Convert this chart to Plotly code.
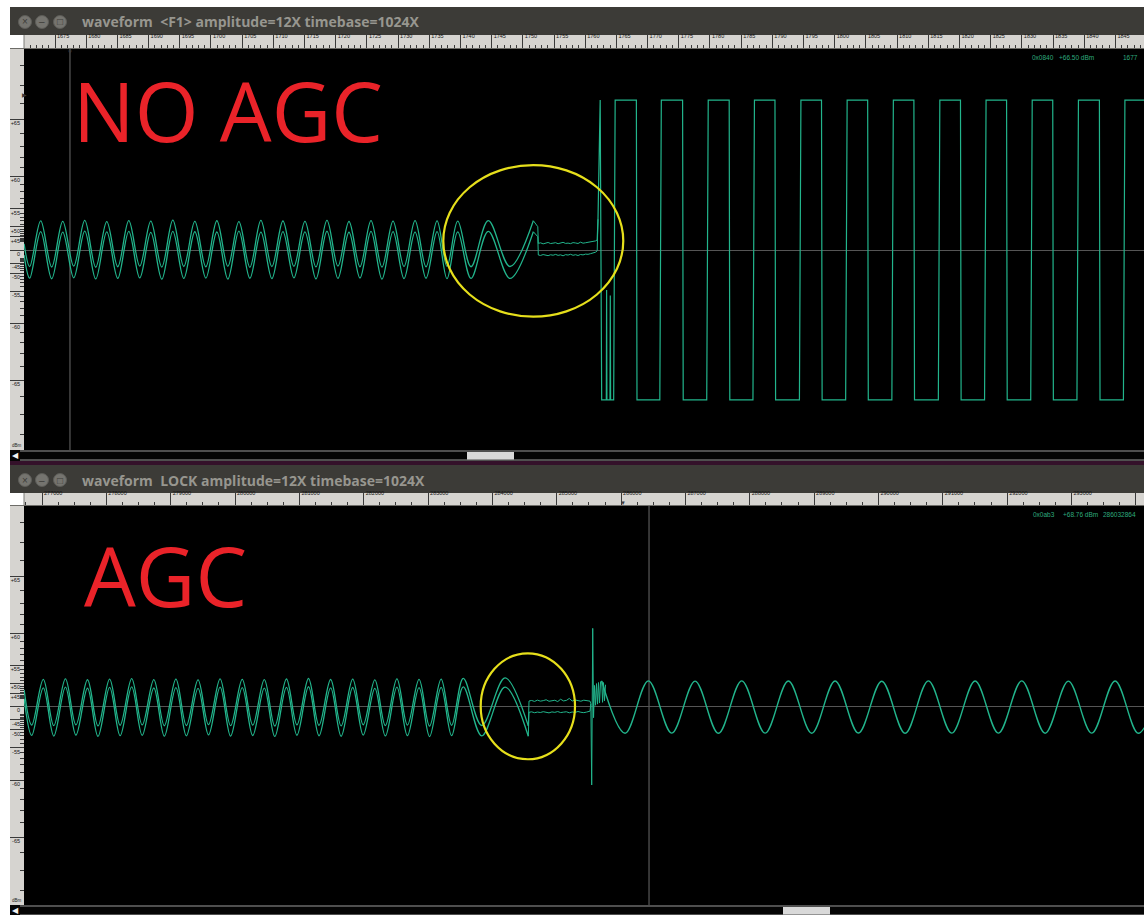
import plotly.graph_objects as go

# ---------------------------------------------------------------------------
# Figure geometry (pixels)
# ---------------------------------------------------------------------------
W, H = 1144, 915

# ---------------------------------------------------------------------------
# Upper window: "<F1>" capture, no AGC (x in ruler units, y in linear counts)
# ---------------------------------------------------------------------------
TOP_X_RANGE = [1670.03, 1849.58]
TOP_Y_RANGE = [-2728, 2742]
TOP_RULER_MAJOR = list(range(1675, 1850, 5))
TOP_RULER_MINOR = [v for v in range(1671, 1850) if v % 5]

TOP_START_X = 1670.05
TOP_START_UPPER = 85
TOP_START_LOWER = -70

TOP_TROUGH_X = [1670.94, 1674.47, 1678.00, 1681.53, 1685.06, 1688.59, 1692.12, 1695.65,
                1699.18, 1702.71, 1706.24, 1709.77, 1713.30, 1716.83, 1720.36, 1723.89,
                1727.42, 1730.95, 1734.48, 1737.84, 1741.69, 1747.94]
TOP_PEAK_X = [1672.71, 1676.24, 1679.77, 1683.30, 1686.83, 1690.36, 1693.89, 1697.42,
              1700.95, 1704.48, 1708.01, 1711.54, 1715.07, 1718.60, 1722.13, 1725.66,
              1729.19, 1732.72, 1736.25, 1739.56, 1744.46, 1751.68]
TOP_UPPER_TROUGHS = [-226, -232, -221, -235, -228, -219, -233, -225, -230, -222, -236,
                     -227, -224, -231, -220, -229, -234, -226, -230, -224, -228, -225]
TOP_UPPER_PEAKS = [398, 392, 405, 388, 401, 395, 407, 390, 399, 386, 403,
                   396, 392, 404, 389, 400, 394, 402, 398, 393, 401, 400]
TOP_LOWER_TROUGHS = [-384, -392, -379, -395, -386, -381, -398, -388, -383, -396, -385,
                     -390, -380, -394, -387, -382, -397, -389, -385, -391, -386, -388]
TOP_LOWER_PEAKS = [252, 244, 258, 247, 255, 240, 253, 249, 246, 257, 243,
                   251, 248, 256, 242, 254, 250, 245, 252, 248, 254, 250]

# dropout: signal collapses onto the DC level of each channel
TOP_FLAT_X = [1752.40, 1752.48, 1752.85, 1753.25, 1753.65, 1754.05, 1754.45, 1754.85,
              1755.25, 1755.65, 1756.05, 1756.45, 1756.85, 1757.25, 1757.65, 1758.05,
              1758.45, 1758.85, 1759.25, 1759.65, 1760.05, 1760.45, 1760.85, 1761.25,
              1761.65, 1761.92]
TOP_FLAT_UPPER = [318, 91, 98, 84, 95, 103, 88, 92, 100, 86, 97, 105, 90, 94, 87, 101,
                  96, 89, 107, 93, 99, 104, 110, 116, 124, 136]
TOP_FLAT_LOWER = [181, -68, -74, -62, -70, -77, -65, -71, -60, -73, -66, -79, -63, -69,
                  -58, -72, -64, -75, -61, -67, -56, -59, -50, -44, -30, -12]

# burst onset, then the clipped (saturated) signal
TOP_SPIKE_X = [1762.05, 1762.40, 1762.64, 1763.38, 1763.43, 1763.48, 1763.97, 1764.02,
               1764.07, 1764.56]
TOP_SPIKE_Y = [420, 2045, -2045, -2045, -546, -2045, -2045, -620, -2045, -2045]
SQ_HIGH, SQ_LOW = 2045, -2045
SQ_RISES = [1764.68, 1772.08, 1779.60, 1787.01, 1794.46, 1801.87, 1809.28, 1816.73,
            1824.14, 1831.54, 1838.95, 1846.40]
SQ_FALLS = [1768.25, 1775.66, 1783.13, 1790.47, 1797.93, 1805.33, 1812.74, 1820.21,
            1827.60, 1835.00, 1842.48]
SQ_END_X = 1850.5

TOP_CURSOR_X = 1677.4
TOP_CURSOR_DBM = 66.50
TOP_HILITE_X = [1737.25, 1766.10]
TOP_HILITE_Y = [-910, 1159]

# ---------------------------------------------------------------------------
# Lower window: "LOCK" capture, with AGC
# ---------------------------------------------------------------------------
BOT_X_RANGE = [276720, 294127]
BOT_Y_RANGE = [-2705, 2738]
BOT_RULER_MAJOR = list(range(277000, 294001, 1000))
BOT_RULER_MINOR = [v for v in range(276750, 294127, 250) if v % 1000]

BOT_START_X = 276722
BOT_START_UPPER = 230
BOT_START_LOWER = 110

BOT_TROUGH_X = [276840, 277183, 277527, 277870, 278214, 278557, 278901, 279244, 279588,
                279931, 280275, 280618, 280962, 281305, 281649, 281992, 282336, 282679,
                283023, 283366, 283834, 284558]
BOT_PEAK_X = [277020, 277364, 277707, 278051, 278394, 278738, 279081, 279425, 279768,
              280112, 280455, 280799, 281142, 281486, 281829, 282173, 282516, 282860,
              283203, 283547, 284196]
BOT_UPPER_TROUGHS = [-250, -258, -247, -262, -253, -249, -260, -256, -244, -259, -252,
                     -263, -248, -255, -261, -246, -257, -251, -264, -254, -256, -262]
BOT_UPPER_PEAKS = [372, 380, 368, 377, 383, 370, 376, 365, 381, 374, 369, 378, 385, 371,
                   376, 367, 380, 373, 377, 386, 392]
BOT_LOWER_TROUGHS = [-392, -400, -388, -404, -395, -390, -402, -397, -385, -401, -393,
                     -406, -389, -396, -403, -387, -399, -394, -407, -395, -398, -402]
BOT_LOWER_PEAKS = [258, 266, 252, 263, 270, 255, 261, 249, 268, 259, 254, 265, 272, 257,
                   262, 251, 267, 260, 263, 271, 268]

BOT_FLAT_X = [284569, 284610, 284655, 284700, 284745, 284790, 284835, 284880, 284925,
              284970, 285015, 285060, 285105, 285150, 285195, 285240, 285285, 285330,
              285375, 285420, 285465, 285517]
BOT_FLAT_UPPER = [78, 85, 72, 90, 76, 83, 95, 74, 81, 88, 70, 102, 79, 86, 113, 77, 92,
                  84, 75, 89, 80, 76]
BOT_FLAT_LOWER = [-76, -70, -82, -73, -79, -68, -75, -84, -71, -77, -66, -80, -74, -69,
                  -83, -72, -78, -65, -76, -81, -73, -60]

# AGC re-acquisition transient
BOT_SPIKE_X = [285530, 285543, 285559, 285572, 285587, 285603, 285618, 285634, 285649,
               285665, 285681, 285699, 285712, 285727, 285742, 285758]
BOT_SPIKE_Y = [40, -1068, 1069, -150, 290, 20, 315, 35, 330, 50, 342, 350, 60, 330, 80,
               300]

# settled signal after the AGC has locked
BOT_R_PEAK_X = [285699, 286424, 287150, 287875, 288600, 289326, 290051, 290776, 291502,
                292227, 292952, 293678, 294403]
BOT_R_TROUGH_X = [286062, 286787, 287512, 288238, 288963, 289688, 290414, 291139, 291864,
                  292590, 293315, 294040]
BOT_R_PEAKS = [350, 352, 349, 353, 350, 351, 348, 352, 350, 353, 349, 351, 350]
BOT_R_TROUGHS = [-362, -360, -363, -361, -362, -359, -363, -361, -360, -362, -361, -363]

BOT_CURSOR_X = 286434
BOT_MARK_X = 286033
BOT_CURSOR_DBM = 68.76
BOT_HILITE_X = [283818, 285284]
BOT_HILITE_Y = [-717, 728]

# amplitude ruler, labelled in dBm
DBM_MARKS = [65, 60, 55, 50, 45]
DBM_MINOR = [d for d in range(41, 69) if d % 5]

# ---------------------------------------------------------------------------
# Styling
# ---------------------------------------------------------------------------
WAVE = "#22b58c"
RULER_BG = "#d6d4d0"
RULER_INK = "#3a3a3a"
TITLE_BG = "#3c3b37"
TITLE_INK = "#97968f"
HILITE = "#e6df1b"
LABEL_RED = "#ea2329"
INFO_GREEN = "#2eaa7e"
TICK_FONT = dict(family="Liberation Sans", size=5.5, color="#151515")


def px_x(px):
    return px / W


def px_y(py):
    return 1 - py / H


def alternate(a, b):
    out = []
    for i in range(max(len(a), len(b))):
        if i < len(a):
            out.append(a[i])
        if i < len(b):
            out.append(b[i])
    return out


def dbm_to_counts(d):
    return 10 ** (d / 20.0)


fig = go.Figure()


def add_wave(xs, ys, xa, ya, shape="linear", width=1.3):
    fig.add_trace(go.Scatter(
        x=xs, y=ys, xaxis=xa, yaxis=ya, mode="lines",
        line=dict(color=WAVE, width=width, shape=shape),
        hoverinfo="skip", showlegend=False))


# ---- upper window traces ----
add_wave([TOP_START_X] + alternate(TOP_TROUGH_X, TOP_PEAK_X),
         [TOP_START_UPPER] + alternate(TOP_UPPER_TROUGHS, TOP_UPPER_PEAKS), "x", "y", "spline")
add_wave([TOP_START_X] + alternate(TOP_TROUGH_X, TOP_PEAK_X),
         [TOP_START_LOWER] + alternate(TOP_LOWER_TROUGHS, TOP_LOWER_PEAKS), "x", "y", "spline")
add_wave([TOP_PEAK_X[-1]] + TOP_FLAT_X, [TOP_UPPER_PEAKS[-1]] + TOP_FLAT_UPPER, "x", "y", width=1.0)
add_wave([TOP_PEAK_X[-1]] + TOP_FLAT_X + [TOP_SPIKE_X[0]],
         [TOP_LOWER_PEAKS[-1]] + TOP_FLAT_LOWER + [TOP_SPIKE_Y[0]], "x", "y", width=1.0)

sq_x, sq_y = [TOP_FLAT_X[-1]] + TOP_SPIKE_X, [TOP_FLAT_UPPER[-1]] + TOP_SPIKE_Y
for i, r in enumerate(SQ_RISES):
    sq_x += [r - 0.12, r + 0.12]
    sq_y += [SQ_LOW, SQ_HIGH]
    if i < len(SQ_FALLS):
        f = SQ_FALLS[i]
        sq_x += [f - 0.05, f + 0.05]
        sq_y += [SQ_HIGH, SQ_LOW]
sq_x.append(SQ_END_X)
sq_y.append(SQ_HIGH)
add_wave(sq_x, sq_y, "x", "y", width=1.2)

# ---- lower window traces ----
add_wave([BOT_START_X] + alternate(BOT_TROUGH_X, BOT_PEAK_X),
         [BOT_START_UPPER] + alternate(BOT_UPPER_TROUGHS, BOT_UPPER_PEAKS), "x2", "y2", "spline")
add_wave([BOT_START_X] + alternate(BOT_TROUGH_X, BOT_PEAK_X),
         [BOT_START_LOWER] + alternate(BOT_LOWER_TROUGHS, BOT_LOWER_PEAKS), "x2", "y2", "spline")
add_wave([BOT_TROUGH_X[-1]] + BOT_FLAT_X + BOT_SPIKE_X,
         [BOT_UPPER_TROUGHS[-1]] + BOT_FLAT_UPPER + BOT_SPIKE_Y, "x2", "y2", width=1.0)
add_wave([BOT_TROUGH_X[-1]] + BOT_FLAT_X + BOT_SPIKE_X[:1],
         [BOT_LOWER_TROUGHS[-1]] + BOT_FLAT_LOWER + BOT_SPIKE_Y[:1], "x2", "y2", width=1.0)
add_wave(alternate(BOT_R_PEAK_X, BOT_R_TROUGH_X), alternate(BOT_R_PEAKS, BOT_R_TROUGHS),
         "x2", "y2", "spline", width=1.4)


# ---------------------------------------------------------------------------
# Axes. The scope area axes carry no ticks; the time ruler above and the
# dBm ruler on the left are separate strips that share the same ranges.
# ---------------------------------------------------------------------------
def scope_x(domain, rng, anchor):
    return dict(domain=domain, range=rng, anchor=anchor, showticklabels=False, ticks="",
                showgrid=False, zeroline=False, showline=False, fixedrange=True)


def scope_y(domain, rng, anchor):
    return dict(domain=domain, range=rng, anchor=anchor, showticklabels=False, ticks="",
                showgrid=False, showline=False, zeroline=True,
                zerolinecolor="#555555", zerolinewidth=1, fixedrange=True)


def time_ruler(domain, rng, major, minor, anchor):
    return dict(domain=domain, range=rng, anchor=anchor, side="bottom",
                tickmode="array", tickvals=major, ticktext=[str(v) for v in major],
                ticks="", showgrid=True, gridcolor=RULER_INK, gridwidth=1,
                tickfont=TICK_FONT, tickangle=0,
                ticklabelposition="inside right", ticklabelstandoff=4, ticklabelshift=2,
                minor=dict(tickmode="array", tickvals=minor, ticks="inside", ticklen=4,
                           tickwidth=1, tickcolor=RULER_INK, showgrid=False),
                zeroline=False, showline=False, fixedrange=True)


def dbm_ruler(domain, rng, anchor):
    vals = [dbm_to_counts(d) for d in DBM_MARKS] + [0] + [-dbm_to_counts(d) for d in reversed(DBM_MARKS)]
    text = ["+%d" % d for d in DBM_MARKS] + ["0"] + ["-%d" % d for d in reversed(DBM_MARKS)]
    mvals = [dbm_to_counts(d) for d in DBM_MINOR] + [-dbm_to_counts(d) for d in DBM_MINOR]
    return dict(domain=domain, range=rng, anchor=anchor, side="right",
                tickmode="array", tickvals=vals, ticktext=text,
                ticks="", showgrid=True, gridcolor=RULER_INK, gridwidth=1,
                tickfont=TICK_FONT, ticklabelposition="inside bottom", ticklabelstandoff=1,
                minor=dict(tickmode="array", tickvals=mvals, ticks="inside", ticklen=4,
                           tickwidth=1, tickcolor=RULER_INK, showgrid=False),
                zeroline=False, showline=False, fixedrange=True)


def hidden(domain, anchor):
    return dict(domain=domain, range=[0, 1], anchor=anchor, visible=False, fixedrange=True)


TOP_BAR, BOT_BAR = 7, 465
TOP_RULER = (35, 49)
BOT_RULER = (493, 506)
TOP_PLOT = (49, 450)
BOT_PLOT = (506, 905)
X_DOMAIN = [px_x(24), 1]
STRIP_DOMAIN = [px_x(10), px_x(24)]


def ydom(band):
    return [px_y(band[1]), px_y(band[0])]


layout_axes = dict(
    xaxis=scope_x(X_DOMAIN, TOP_X_RANGE, "y"),
    yaxis=scope_y(ydom(TOP_PLOT), TOP_Y_RANGE, "x"),
    xaxis2=scope_x(X_DOMAIN, BOT_X_RANGE, "y2"),
    yaxis2=scope_y(ydom(BOT_PLOT), BOT_Y_RANGE, "x2"),
    # time rulers
    xaxis3=time_ruler(X_DOMAIN, TOP_X_RANGE, TOP_RULER_MAJOR, TOP_RULER_MINOR, "y3"),
    yaxis3=hidden(ydom(TOP_RULER), "x3"),
    xaxis5=time_ruler(X_DOMAIN, BOT_X_RANGE, BOT_RULER_MAJOR, BOT_RULER_MINOR, "y5"),
    yaxis5=hidden(ydom(BOT_RULER), "x5"),
    # dBm rulers
    xaxis4=hidden(STRIP_DOMAIN, "y4"),
    yaxis4=dbm_ruler(ydom(TOP_PLOT), TOP_Y_RANGE, "x4"),
    xaxis6=hidden(STRIP_DOMAIN, "y6"),
    yaxis6=dbm_ruler(ydom(BOT_PLOT), BOT_Y_RANGE, "x6"),
)

# empty traces so every ruler strip exists as a subplot
for xa, ya in (("x3", "y3"), ("x4", "y4"), ("x5", "y5"), ("x6", "y6")):
    fig.add_trace(go.Scatter(x=[], y=[], xaxis=xa, yaxis=ya, mode="lines",
                             hoverinfo="skip", showlegend=False))

shapes = []
annotations = []


def rect(x0, y0, x1, y1, fill, layer="below"):
    shapes.append(dict(type="rect", xref="paper", yref="paper",
                       x0=px_x(x0), x1=px_x(x1), y0=px_y(y1), y1=px_y(y0),
                       fillcolor=fill, line=dict(width=0), layer=layer))


def hline(x0, x1, y, color, width=1):
    shapes.append(dict(type="line", xref="paper", yref="paper",
                       x0=px_x(x0), x1=px_x(x1), y0=px_y(y), y1=px_y(y),
                       line=dict(color=color, width=width), layer="above"))


def vline(x, y0, y1, color, width=1):
    shapes.append(dict(type="line", xref="paper", yref="paper",
                       x0=px_x(x), x1=px_x(x), y0=px_y(y0), y1=px_y(y1),
                       line=dict(color=color, width=width), layer="above"))


def text(x, y, s, size, color, family="Liberation Sans", xanchor="left", yanchor="middle",
         bold=False):
    annotations.append(dict(x=px_x(x), y=px_y(y), xref="paper", yref="paper",
                            text="<b>%s</b>" % s if bold else s,
                            showarrow=False, xanchor=xanchor, yanchor=yanchor,
                            font=dict(family=family, size=size, color=color)))


def window_chrome(bar_top, title, ruler, plot, thumb, xref, yref, cursor_x, mark_x,
                  cursor_dbm, info):
    rect(10, bar_top, W, ruler[0], TITLE_BG)
    cy = bar_top + 15
    for cx, glyph in ((25, "\u00d7"), (42, "\u2013"), (60, "\u25a1")):
        shapes.append(dict(type="circle", xref="paper", yref="paper",
                           x0=px_x(cx - 6.5), x1=px_x(cx + 6.5),
                           y0=px_y(cy + 6.5), y1=px_y(cy - 6.5),
                           fillcolor="#75746f", line=dict(color="#5d5c58", width=1),
                           layer="above"))
        text(cx, cy, glyph, 10, "#3d3c38", xanchor="center")
    text(80, cy, title, 14, TITLE_INK, family="Open Sans", bold=True)
    # scope area
    rect(24, plot[0], W, plot[1], "black")
    vline(24, ruler[0], ruler[1], "#7d7c78")
    hline(10, W, plot[0] - 0.5, "#6d6c68")
    text(17, plot[1] - 5, "dBm", 4.5, "#1e1e1e", xanchor="center")
    # scrollbar
    rect(10, plot[1], W, plot[1] + 11, "#050505", layer="above")
    hline(20, W, plot[1] + 1, "#9a9a9a")
    hline(20, W, plot[1] + 10, "#9a9a9a")
    text(15, plot[1] + 5.5, "\u25c0", 8, "#f2f2f2", xanchor="center")
    rect(thumb, plot[1] + 2, thumb + 47, plot[1] + 9.5, "#d9d9d9", layer="above")
    # cursor and markers
    shapes.append(dict(type="line", xref=xref, yref=yref + " domain", x0=cursor_x, x1=cursor_x,
                       y0=0, y1=1, line=dict(color="#6a6a6a", width=1), layer="below"))
    annotations.append(dict(x=mark_x, y=px_y(plot[0] - 3), xref=xref, yref="paper",
                            text="\u25bc", showarrow=False,
                            font=dict(size=6, color=RULER_INK)))
    annotations.append(dict(x=px_x(20), y=dbm_to_counts(cursor_dbm), xref="paper", yref=yref,
                            text="\u25b6", showarrow=False,
                            font=dict(size=6, color=RULER_INK)))
    for xpos, s in info:
        text(xpos, plot[0] + 8, s, 6.5, INFO_GREEN)


window_chrome(TOP_BAR, "waveform  &lt;F1&gt; amplitude=12X timebase=1024X", TOP_RULER,
              TOP_PLOT, 467, "x", "y", TOP_CURSOR_X, TOP_CURSOR_X, TOP_CURSOR_DBM,
              [(1030, "0x0840"), (1057, "+66.50 dBm"), (1121, "1677")])
window_chrome(BOT_BAR, "waveform  LOCK amplitude=12X timebase=1024X", BOT_RULER,
              BOT_PLOT, 783, "x2", "y2", BOT_CURSOR_X, BOT_MARK_X, BOT_CURSOR_DBM,
              [(1031, "0x0ab3"), (1061, "+68.76 dBm"), (1101, "286032864")])

# strip of desktop between the two windows
rect(10, 461, W, 465, "#34112a", layer="above")
# white margins around the windows
rect(0, 0, W, TOP_BAR, "white", layer="above")
rect(0, 0, 10, H, "white", layer="above")

# highlighted regions
shapes.append(dict(type="circle", xref="x", yref="y", x0=TOP_HILITE_X[0], x1=TOP_HILITE_X[1],
                   y0=TOP_HILITE_Y[0], y1=TOP_HILITE_Y[1], line=dict(color=HILITE, width=2.2),
                   layer="above"))
shapes.append(dict(type="circle", xref="x2", yref="y2", x0=BOT_HILITE_X[0], x1=BOT_HILITE_X[1],
                   y0=BOT_HILITE_Y[0], y1=BOT_HILITE_Y[1], line=dict(color=HILITE, width=2.2),
                   layer="above"))

# panel captions
text(71, 110, "NO AGC", 82, LABEL_RED, family="Open Sans")
text(82, 575, "AGC", 82, LABEL_RED, family="Open Sans")

fig.update_layout(
    width=W, height=H, autosize=False,
    margin=dict(l=0, r=0, t=0, b=0, pad=0),
    paper_bgcolor="white", plot_bgcolor=RULER_BG,
    showlegend=False, shapes=shapes, annotations=annotations,
    **layout_axes,
)

fig.write_html("out.html", config={"displayModeBar": False})
